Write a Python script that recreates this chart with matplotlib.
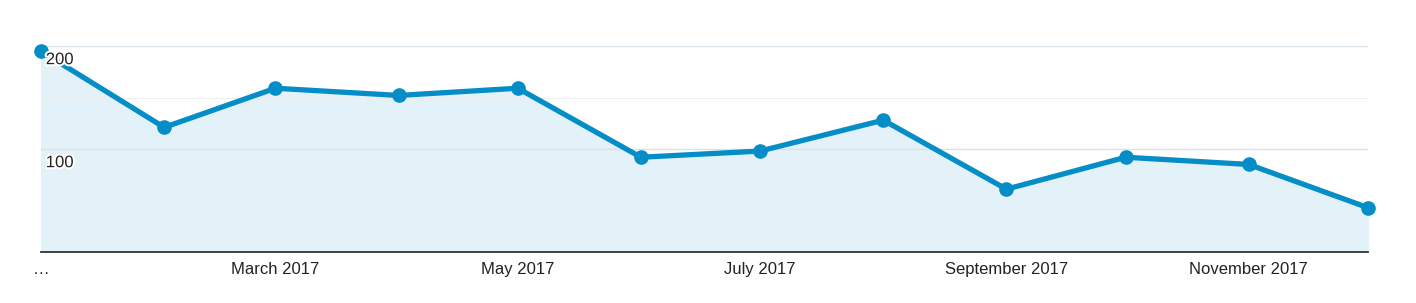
import matplotlib
matplotlib.use("Agg")
import matplotlib.pyplot as plt
import matplotlib.patheffects as pe
import numpy as np
from datetime import date

plt.rcParams['font.family'] = ['Liberation Sans', 'DejaVu Sans']

# monthly values, Jan..Dec 2017
months = [date(2017, m, 1) for m in range(1, 13)]
values = [195, 121, 159, 152, 159, 92, 98, 128, 61, 92, 85, 43]
tick_months = [date(2017, 1, 1), date(2017, 3, 1), date(2017, 5, 1),
               date(2017, 7, 1), date(2017, 9, 1), date(2017, 11, 1)]
tick_labels = ['…', 'March 2017', 'May 2017', 'July 2017',
               'September 2017', 'November 2017']
y_labels = [200, 100]

x = matplotlib.dates.date2num(months)

fig = plt.figure(figsize=(14.16, 3.03), dpi=100)
ax = fig.add_axes([41/1416, 51/303, (1368-41)/1416, (252-46)/303])

ax.fill_between(x, values, 0, color='#e3f1f9', zorder=1)
ax.plot(x, values, color='#058dc7', lw=3.8, marker='o', ms=9.5,
        clip_on=False, zorder=3, solid_joinstyle='round')

ax.set_xlim(x[0], x[-1])
ax.set_ylim(0, 200)

# gridlines
for g in [50, 150]:
    ax.axhline(g, color='#eeeeee', lw=0.8, zorder=2)
for g in [100, 200]:
    ax.axhline(g, color='#d9e2e8', lw=1.0, zorder=2)

for v in y_labels:
    ax.text(x[0] + 1.2, v - 6, str(v), fontsize=12, color='#222222',
            va='top', ha='left', zorder=4,
            path_effects=[pe.withStroke(linewidth=3, foreground='white')])

ax.set_yticks([])
ax.set_xticks(matplotlib.dates.date2num(tick_months))
ax.set_xticklabels(tick_labels, fontsize=12, color='#222222')
ax.tick_params(axis='x', length=0, pad=7)

for s in ['top', 'right', 'left']:
    ax.spines[s].set_visible(False)
ax.spines['bottom'].set_color('#333333')
ax.spines['bottom'].set_linewidth(1.3)
ax.spines['bottom'].set_zorder(5)

plt.savefig('out.png', dpi=100)
